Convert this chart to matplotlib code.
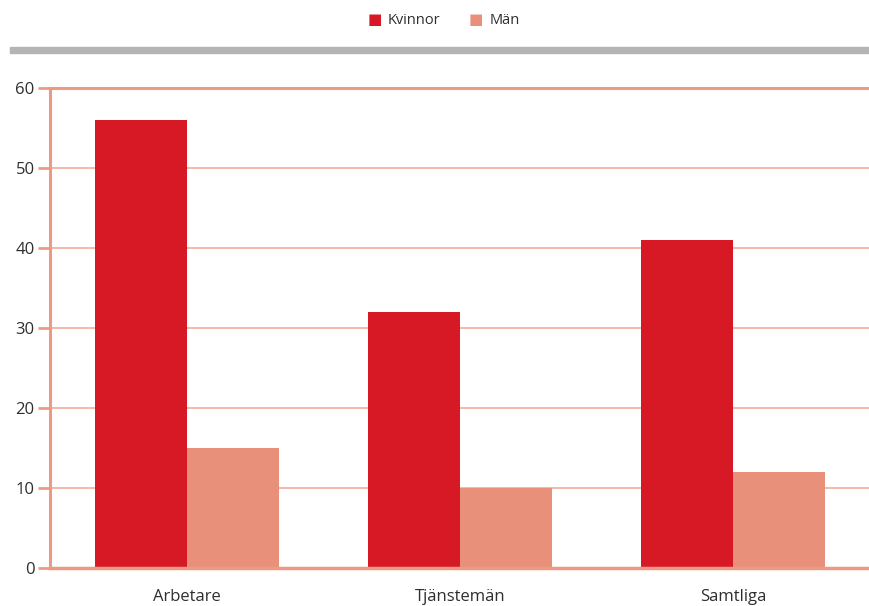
import matplotlib
matplotlib.use("Agg")
import matplotlib.pyplot as plt
from matplotlib.patches import Rectangle
import numpy as np

# Data
categories = ["Arbetare", "Tjänstemän", "Samtliga"]
kvinnor = [56, 32, 41]
man = [15, 10, 12]
series_names = ["Kvinnor", "Män"]
yticks = [0, 10, 20, 30, 40, 50, 60]

RED = "#d71925"
SALMON = "#e9907a"
GRID = "#f2ab98"
AXIS = "#ec9a84"
TEXT = "#2e2e2e"

plt.rcParams["font.family"] = ["Open Sans", "DejaVu Sans"]

fig = plt.figure(figsize=(8.7, 6.06), dpi=100)
ax = fig.add_axes([50 / 870, 1 - 568 / 606, 1 - 50 / 870, 480 / 606])

x = np.arange(len(categories))
w = 0.336
ax.bar(x - w / 2, kvinnor, width=w, color=RED, zorder=3, label=series_names[0])
ax.bar(x + w / 2, man, width=w, color=SALMON, zorder=3, label=series_names[1])

ax.set_xlim(-0.5, 2.5)
ax.set_ylim(0, 60)
ax.set_yticks(yticks)
ax.set_yticklabels([str(t) for t in yticks], fontsize=12, color=TEXT)
ax.set_xticks(x)
ax.set_xticklabels(categories, fontsize=12, color=TEXT)
ax.tick_params(axis="x", length=0, pad=15)
ax.tick_params(axis="y", length=9, width=2, color=AXIS, pad=2)

for t in yticks[1:-1]:
    ax.axhline(t, color=GRID, lw=1.2, zorder=1)
ax.axhline(60, color=AXIS, lw=2.2, zorder=2, clip_on=False)
ax.axhline(0, color=AXIS, lw=2.5, zorder=4, clip_on=False)

for s in ["top", "right", "bottom"]:
    ax.spines[s].set_visible(False)
ax.spines["left"].set_color(AXIS)
ax.spines["left"].set_linewidth(2.2)

# legend
fig.text(375 / 870, 1 - 20 / 606, "\u25A0", color=RED, fontsize=11, va="center", ha="center")
fig.text(388 / 870, 1 - 20 / 606, series_names[0], color=TEXT, fontsize=10.5, va="center")
fig.text(476 / 870, 1 - 20 / 606, "\u25A0", color=SALMON, fontsize=11, va="center", ha="center")
fig.text(490 / 870, 1 - 20 / 606, series_names[1], color=TEXT, fontsize=10.5, va="center")

# grey band under legend
fig.patches.append(Rectangle((10 / 870, 1 - 53 / 606), 860 / 870, 6 / 606,
                             transform=fig.transFigure, color="#b4b4b6", zorder=0))

fig.savefig("out.png", dpi=100)
